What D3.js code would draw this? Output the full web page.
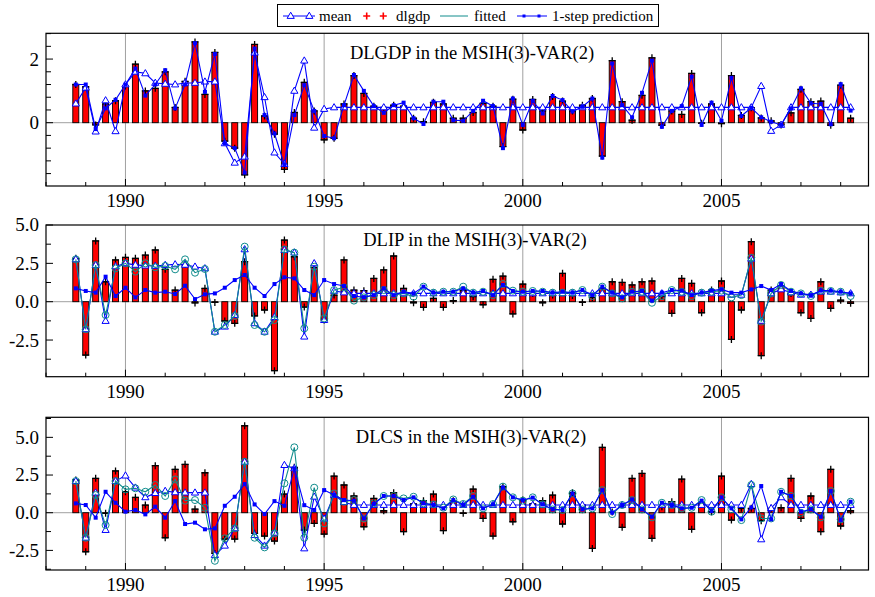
<!DOCTYPE html>
<html>
<head>
<meta charset="utf-8">
<script src="https://d3js.org/d3.v7.min.js"></script>
<title>MSIH(3)-VAR(2) fit</title>
<style type="text/css">
  body { margin: 0; background: #fff; }
  text { font-family: "Liberation Serif", "DejaVu Serif", serif; fill: #000; }
</style>
</head>
<body>
<div id="chart"></div>
<script>

// quarterly sample, first obs 1988(4), last 2008(2)
var startYear = 1988.75;
var yearTicks = [1990, 1995, 2000, 2005];

// DLGDP
var gdpData = [1.20, 1.13, -0.07, 0.59, 0.69, 1.15, 1.84, 1.00, 1.08, 1.60, 0.48, 1.30, 2.54, 0.89, 2.21, -0.58, -0.80, -1.64, 2.46, 0.21,
  -0.36, -1.47, 0.32, 1.27, 0.37, -0.54, -0.49, 0.59, 1.48, 0.92, 0.52, 0.48, 0.55, 0.52, 0.14, 0.03, 0.64, 0.59, 0.14, 0.14,
  0.32, 0.61, 0.52, -0.75, 0.74, -0.23, 0.73, 0.37, 0.82, 0.68, 0.37, 0.55, 0.76, -1.05, 1.95, 0.66, 0.08, 0.86, 2.04, -0.08,
  0.37, 0.26, 1.55, -0.02, 0.59, -0.03, 1.48, 0.23, 0.47, 0.15, 0.06, -0.07, 0.31, 1.05, 0.66, 0.68, -0.08, 1.18, 0.14];
var gdpMean = [0.60, 1.10, -0.28, 0.70, -0.27, 1.20, 1.60, 1.55, 1.25, 1.22, 1.20, 1.25, 1.25, 1.29, 1.29, -0.65, -1.26, -1.07, 2.20, 0.80,
  -0.94, -1.30, 1.00, 1.95, -0.16, 0.43, 0.48, 0.48, 0.48, 0.48, 0.48, 0.48, 0.48, 0.48, 0.48, 0.48, 0.48, 0.48, 0.48, 0.48,
  0.48, 0.48, 0.48, 0.48, 0.48, 0.48, 0.48, 0.48, 0.48, 0.48, 0.48, 0.48, 0.48, 0.48, 0.48, 0.48, 0.48, 0.48, 0.48, 0.48,
  0.48, 0.48, 0.48, 0.48, 0.48, 0.48, 0.48, 0.48, 0.48, 1.15, -0.26, -0.07, 0.48, 0.48, 0.48, 0.48, 0.48, 0.48, 0.48];
var gdpPred = [1.20, 1.20, -0.20, 0.45, 0.72, 1.20, 1.70, 0.85, 1.20, 1.65, 0.45, 1.20, 2.50, 0.97, 2.16, -0.65, -0.80, -1.57, 2.33, 0.24,
  -0.34, -1.33, 0.24, 1.18, 0.37, -0.42, -0.49, 0.55, 1.50, 1.00, 0.52, 0.31, 0.55, 0.63, 0.14, -0.04, 0.66, 0.66, 0.08, 0.06,
  0.37, 0.69, 0.52, -0.80, 0.76, -0.07, 0.69, 0.29, 0.84, 0.71, 0.35, 0.50, 0.76, -1.10, 1.86, 0.55, 0.17, 0.94, 1.95, -0.13,
  0.37, 0.52, 1.45, -0.07, 0.63, 0.06, 1.41, 0.21, 0.47, 0.17, 0.03, -0.07, 0.45, 1.08, 0.61, 0.59, -0.05, 1.21, 0.38];

// DLIP
var ipData = [2.83, -3.48, 3.96, 1.30, 2.72, 2.89, 2.83, 3.04, 3.37, 2.11, 0.76, 2.43, -0.08, 0.87, -0.05, -1.26, -1.41, 2.61, -0.93, -0.54,
  -4.50, 4.02, 2.93, -0.35, 2.24, -1.20, 0.43, 2.72, 0.76, 0.72, 1.52, 2.07, 2.98, 0.87, -0.07, -0.37, 0.22, -0.37, 0.07, 0.72,
  0.33, -0.20, 1.46, 1.67, -0.80, 1.15, 0.54, -0.07, 0.43, 1.85, 0.40, -0.05, 0.28, 0.87, 1.30, 1.26, 1.09, 1.30, 1.35, 0.37,
  -0.76, 1.52, 1.20, -0.72, 0.76, 1.35, -2.46, -0.54, 3.91, -3.52, 0.76, 1.02, 0.54, -0.72, -1.09, 1.30, -0.43, 0.10, -0.10];
var ipMean = [2.76, -1.80, 2.39, -1.26, 2.30, 2.50, 2.40, 2.35, 2.33, 2.39, 2.43, 2.40, 2.28, 2.17, -1.96, -1.63, -0.87, 3.41, -1.41, -1.96,
  -1.00, 3.37, 3.20, -2.28, 2.50, -1.20, 0.70, 0.60, 0.54, 0.54, 0.54, 0.54, 0.54, 0.54, 0.54, 0.54, 0.54, 0.54, 0.54, 0.54,
  0.54, 0.54, 0.54, 0.54, 0.54, 0.54, 0.54, 0.54, 0.54, 0.54, 0.54, 0.54, 0.54, 0.54, 0.54, 0.54, 0.54, 0.54, 0.54, 0.54,
  0.54, 0.54, 0.54, 0.54, 0.54, 0.54, 0.45, 0.45, 2.80, -1.25, 0.54, 0.80, 0.60, 0.45, 0.45, 0.65, 0.65, 0.60, 0.54];
var ipFit = [2.76, -1.80, 2.39, -0.87, 2.17, 2.50, 1.96, 2.50, 2.24, 2.33, 2.11, 2.76, 1.89, 2.13, -1.96, -1.52, -0.93, 3.59, -1.52, -1.96,
  -1.20, 3.41, 3.20, -1.74, 2.28, -1.09, 0.76, 0.93, 0.07, 0.28, 0.43, 0.76, 0.43, 0.54, 0.33, 0.98, 0.59, 0.65, 0.65, 0.98,
  0.59, 0.65, 0.43, 1.15, 0.72, 0.65, 0.70, 0.65, 0.59, 0.59, 0.59, 0.76, 0.37, 0.98, 0.54, 0.22, 0.65, 0.65, -0.07, 0.37,
  0.76, 0.65, 0.37, 0.59, 0.65, 0.72, 0.28, 0.43, 2.87, -1.30, 0.54, 1.09, 0.65, 0.54, 0.37, 0.72, 0.70, 0.65, 0.37];
var ipPred = [0.87, 0.70, 0.59, 1.63, 0.37, 0.91, 0.28, 0.76, 0.59, 0.65, 0.50, 1.04, 0.17, 0.48, 0.54, 0.91, 1.41, 1.74, 0.91, 0.37,
  1.15, 1.59, 1.52, 0.76, 0.43, 1.41, 1.15, 1.02, 0.37, 0.28, 0.43, 0.87, 0.43, 0.65, 0.54, 0.98, 0.59, 0.65, 0.65, 0.87,
  0.59, 0.70, 0.43, 1.09, 0.70, 0.65, 0.70, 0.70, 0.59, 0.65, 0.59, 0.76, 0.43, 0.98, 0.59, 0.28, 0.65, 0.70, 0.07, 0.59,
  0.76, 0.72, 0.43, 0.59, 0.72, 0.80, 0.59, 0.59, 0.80, 1.02, 0.76, 1.15, 0.70, 0.54, 0.43, 0.72, 0.72, 0.65, 0.54];

// DLCS
var csData = [2.17, -2.59, 2.28, -0.04, 2.77, 1.39, 1.02, 0.51, 3.12, -1.66, 2.88, 3.21, 0.24, 2.65, -2.70, -1.75, -1.75, 5.77, -1.37, -1.55,
  -1.88, 1.24, 3.01, -1.15, -0.71, -1.42, 2.43, 1.84, 1.11, -0.93, 0.95, 0.13, 1.33, -1.26, 0.58, 0.80, 1.24, -1.19, 0.80, -0.04,
  1.57, -0.38, -1.55, 1.73, -0.60, 0.84, 0.58, 0.80, 1.17, -0.75, 1.33, 0.51, -2.37, 4.34, 0.05, -0.97, 2.28, 2.61, -1.70, 0.40,
  0.73, 2.23, -1.10, 0.66, 0.07, 2.43, -0.49, 0.29, 0.29, -0.53, 0.29, 0.33, 2.28, -0.38, 1.11, -1.26, 2.88, -0.88, 0.13];
var csMean = [2.10, -1.66, 1.33, -1.15, 2.10, 2.46, 1.66, 1.02, 1.30, 1.44, 1.35, 1.33, 1.33, 1.33, -2.81, -2.19, -1.04, 3.38, -1.48, -2.19,
  -1.33, 3.16, 2.94, -2.37, 1.06, -0.40, 1.17, 0.70, 0.51, 0.51, 0.51, 0.51, 0.51, 0.51, 0.51, 0.51, 0.51, 0.51, 0.51, 0.51,
  0.51, 0.51, 0.51, 0.51, 0.51, 0.51, 0.51, 0.51, 0.51, 0.51, 0.51, 0.51, 0.51, 0.51, 0.51, 0.51, 0.51, 0.51, 0.51, 0.51,
  0.51, 0.51, 0.51, 0.51, 0.51, 0.51, 0.51, 0.51, 1.90, -1.77, 0.30, 1.02, 0.51, 0.51, 0.51, 0.51, 0.51, 0.51, 0.51];
var csFit = [2.10, -1.66, 1.17, -0.82, 2.10, 1.55, 1.62, 1.39, 1.84, 1.11, 2.21, 0.80, 0.84, 0.33, -3.19, -1.70, -1.04, 3.38, -1.66, -2.30,
  -1.37, 1.95, 4.34, -1.66, 1.66, -0.71, 1.28, 0.73, 0.84, -0.38, 0.62, 1.11, 1.11, 0.95, 1.06, 0.62, 0.55, 0.33, 0.88, 0.58,
  1.11, 0.29, 0.58, 1.73, 1.02, 0.80, 1.02, 0.55, 0.22, 0.18, 1.28, 0.22, 0.29, 1.50, -0.09, 0.51, 0.84, 0.22, -0.31, 0.66,
  0.51, 0.29, 0.33, 0.84, 0.07, 1.02, 0.22, -0.49, 1.84, -0.38, -0.38, 1.39, 1.11, 0.00, 0.22, -0.31, 1.44, -0.44, 0.73];
var csPred = [0.62, 0.51, -0.33, 1.39, 0.66, 0.07, 0.18, -0.11, 0.40, -0.33, 0.77, -0.75, -0.66, -1.10, -1.04, 0.46, 1.06, 1.90, 0.55, -0.09,
  0.77, 0.46, 2.94, 0.50, 0.18, 1.50, 1.17, 0.84, 0.80, -0.38, 0.58, 1.11, 1.11, 0.84, 1.02, 0.62, 0.51, 0.29, 0.84, 0.51,
  1.06, 0.29, 0.55, 1.68, 1.02, 0.84, 1.00, 0.55, 0.22, 0.18, 1.28, 0.22, 0.29, 1.50, 0.00, 0.51, 0.88, 0.22, -0.27, 0.66,
  0.51, 0.29, 0.33, 0.80, 0.11, 1.02, 0.29, -0.44, 0.35, 1.77, -0.44, 1.39, 1.11, 0.07, 0.22, -0.27, 1.44, -0.49, 0.73];

var blue = "#0000ff", teal = "#108c8c", red = "#ff0000", grid = "#a0a0a0";

var svg = d3.select("#chart").append("svg")
  .attr("width", 875)
  .attr("height", 597);

// shared time axis
var x = d3.scaleLinear().domain([1988, 2008.7]).range([46, 868.5]);
function dateOf(i) { return startYear + i / 4; }

var panels = [
  {title: "DLGDP in the MSIH(3)-VAR(2)", data: gdpData, mean: gdpMean, fit: null, pred: gdpPred,
   top: 33.3, bottom: 186, domain: [-1.99, 2.81], labels: [0, 2], fmt: d3.format("d"), step: 0.4,
   titleX: 472, titleY: 59},
  {title: "DLIP in the MSIH(3)-VAR(2)", data: ipData, mean: ipMean, fit: ipFit, pred: ipPred,
   top: 225, bottom: 376.7, domain: [-4.89, 5.0], labels: [-2.5, 0, 2.5, 5], fmt: d3.format(".1f"), step: 1.25,
   titleX: 475, titleY: 246},
  {title: "DLCS in the MSIH(3)-VAR(2)", data: csData, mean: csMean, fit: csFit, pred: csPred,
   top: 417.3, bottom: 570, domain: [-3.8, 6.33], labels: [-2.5, 0, 2.5, 5], fmt: d3.format(".1f"), step: 1.25,
   titleX: 471, titleY: 443}
];

var triPath = "M0,-3.8L3.6,2.4L-3.6,2.4Z";
var plusPath = "M-3.5,0H3.5M0,-3.5V3.5";

panels.forEach(function(p) {

  var y = d3.scaleLinear().domain(p.domain).range([p.bottom, p.top]);
  var g = svg.append("g");
  var x0 = x.range()[0], x1 = x.range()[1];

  // grid lines
  g.selectAll(".vgrid").data(yearTicks).enter().append("line")
    .attr("x1", function(d) { return x(d); })
    .attr("x2", function(d) { return x(d); })
    .attr("y1", p.top).attr("y2", p.bottom)
    .style("stroke", grid).style("stroke-width", 1);
  g.append("line")
    .attr("x1", x0).attr("x2", x1)
    .attr("y1", y(0)).attr("y2", y(0))
    .style("stroke", grid).style("stroke-width", 1);

  // minor ticks, x
  var years = d3.range(1988, 2009);
  g.selectAll(".xt").data(years).enter().append("line")
    .attr("x1", function(d) { return x(d); })
    .attr("x2", function(d) { return x(d); })
    .attr("y1", p.bottom)
    .attr("y2", function(d) { return p.bottom - (d % 5 == 0 ? 7 : 4); })
    .style("stroke", "#000");

  // ticks, y
  var yt = [];
  for (var v = Math.ceil(p.domain[0] / p.step) * p.step; v <= p.domain[1] + 1e-9; v += p.step) yt.push(+v.toFixed(3));
  g.selectAll(".yt").data(yt).enter().append("line")
    .attr("x1", x0)
    .attr("x2", function(d) { return x0 + (p.labels.indexOf(d) >= 0 ? 7 : 5); })
    .attr("y1", function(d) { return y(d); })
    .attr("y2", function(d) { return y(d); })
    .style("stroke", "#000");

  g.selectAll(".yl").data(p.labels).enter().append("text")
    .attr("x", 39)
    .attr("y", function(d) { return y(d); })
    .attr("dy", "0.34em")
    .attr("text-anchor", "end")
    .attr("font-size", "19px")
    .text(function(d) { return d < 0 ? "-" + p.fmt(-d) : p.fmt(d); });

  g.selectAll(".xl").data(yearTicks).enter().append("text")
    .attr("x", function(d) { return x(d); })
    .attr("y", p.bottom + 21)
    .attr("text-anchor", "middle")
    .attr("font-size", "19px")
    .text(function(d) { return d; });

  // bars of the actual series
  g.selectAll(".bar").data(p.data).enter().append("rect")
    .attr("x", function(d, i) { return x(dateOf(i)) - 3; })
    .attr("width", 6)
    .attr("y", function(d) { return Math.min(y(d), y(0)); })
    .attr("height", function(d) { return Math.abs(y(d) - y(0)); })
    .style("fill", red)
    .style("stroke", "#000")
    .style("stroke-width", 0.9);

  g.selectAll(".plus").data(p.data).enter().append("path")
    .attr("d", plusPath)
    .attr("transform", function(d, i) { return "translate(" + x(dateOf(i)) + "," + y(d) + ")"; })
    .style("stroke", "#000")
    .style("stroke-width", 1.3);

  var line = d3.line()
    .x(function(d, i) { return x(dateOf(i)); })
    .y(function(d) { return y(d); });

  // regime mean
  g.append("path").datum(p.mean).attr("d", line)
    .style("fill", "none").style("stroke", blue).style("stroke-width", 1.1);
  g.selectAll(".tri").data(p.mean).enter().append("path")
    .attr("d", triPath)
    .attr("transform", function(d, i) { return "translate(" + x(dateOf(i)) + "," + y(d) + ")"; })
    .style("fill", "#fff").style("stroke", blue).style("stroke-width", 1);

  // fitted
  if (p.fit) {
    g.append("path").datum(p.fit).attr("d", line)
      .style("fill", "none").style("stroke", teal).style("stroke-width", 1.1);
    g.selectAll(".circ").data(p.fit).enter().append("circle")
      .attr("cx", function(d, i) { return x(dateOf(i)); })
      .attr("cy", function(d) { return y(d); })
      .attr("r", 3.5)
      .style("fill", "none").style("stroke", teal).style("stroke-width", 1);
  }

  // 1-step prediction
  g.append("path").datum(p.pred).attr("d", line)
    .style("fill", "none").style("stroke", blue).style("stroke-width", 1.1);
  g.selectAll(".sq").data(p.pred).enter().append("rect")
    .attr("x", function(d, i) { return x(dateOf(i)) - 2; })
    .attr("y", function(d) { return y(d) - 2; })
    .attr("width", 4).attr("height", 4)
    .style("fill", blue);

  // frame
  g.append("rect")
    .attr("x", x0).attr("y", p.top)
    .attr("width", x1 - x0).attr("height", p.bottom - p.top)
    .style("fill", "none").style("stroke", "#000").style("stroke-width", 1.2);

  g.append("text")
    .attr("x", p.titleX).attr("y", p.titleY)
    .attr("text-anchor", "middle")
    .attr("font-size", "18.5px")
    .text(p.title);
});

// legend
var lg = svg.append("g");
lg.append("rect").attr("x", 277.5).attr("y", 4.5).attr("width", 381).attr("height", 22)
  .style("fill", "#fff").style("stroke", "#000").style("stroke-width", 1);

lg.append("line").attr("x1", 283).attr("x2", 315).attr("y1", 16).attr("y2", 16).style("stroke", blue);
[290.7, 309.3].forEach(function(cx) {
  lg.append("path").attr("d", triPath).attr("transform", "translate(" + cx + ",16)")
    .style("fill", "#fff").style("stroke", blue);
});
lg.append("text").attr("x", 319).attr("y", 21).attr("font-size", "15px").text("mean");

[366.7, 383.3].forEach(function(cx) {
  lg.append("path").attr("d", plusPath).attr("transform", "translate(" + cx + ",16)")
    .style("stroke", red).style("stroke-width", 1.6);
});
lg.append("text").attr("x", 396).attr("y", 21).attr("font-size", "15px").text("dlgdp");

lg.append("line").attr("x1", 440).attr("x2", 468).attr("y1", 16).attr("y2", 16).style("stroke", teal);
lg.append("text").attr("x", 474).attr("y", 21).attr("font-size", "15px").text("fitted");

lg.append("line").attr("x1", 517).attr("x2", 547).attr("y1", 16).attr("y2", 16).style("stroke", blue);
[524, 539].forEach(function(cx) {
  lg.append("rect").attr("x", cx - 1.5).attr("y", 14.5).attr("width", 3).attr("height", 3).style("fill", blue);
});
lg.append("text").attr("x", 552).attr("y", 21).attr("font-size", "15px").text("1-step prediction");

</script>
</body>
</html>
